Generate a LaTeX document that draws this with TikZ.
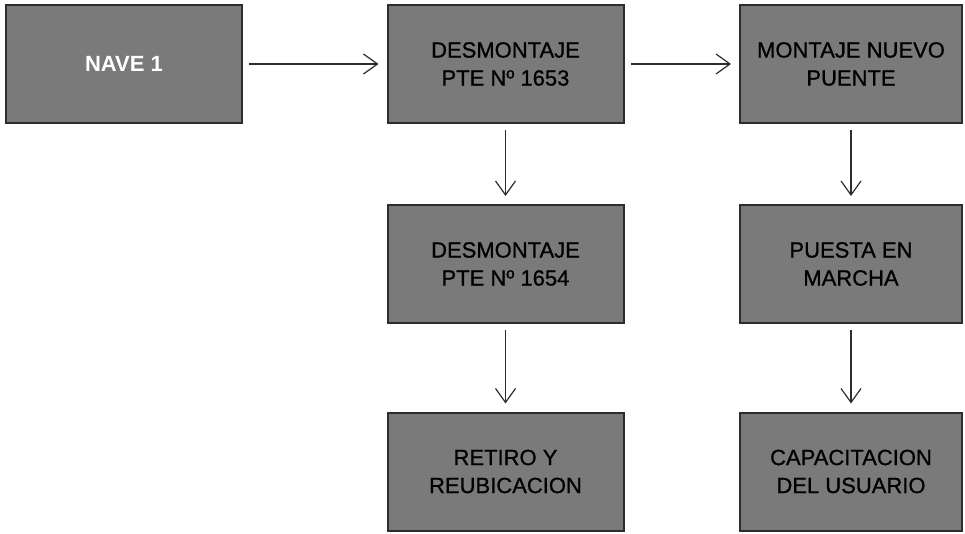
\documentclass[tikz,border=0pt]{standalone}
\usepackage{fontspec}
\setmainfont{Liberation Sans}
\newfontface\heavyface[FakeBold=0.8]{Liberation Sans}
\usetikzlibrary{arrows.meta}

\definecolor{boxfill}{RGB}{122,122,122}
\definecolor{boxedge}{RGB}{45,45,45}
\definecolor{arrowgray}{RGB}{45,45,45}

\begin{document}
\begin{tikzpicture}[x=1pt, y=1pt,
    tarea/.style={draw=boxedge, line width=2pt, fill=boxfill,
        minimum width=236pt, minimum height=118pt, inner sep=0pt,
        align=center, font=\fontsize{22}{28}\heavyface},
    flecha/.style={-{Straight Barb[length=14pt, width=20pt]}, line width=1.2pt,
        draw=arrowgray, shorten <=6pt, shorten >=8pt}]

    % --- 1. FRAME ---
    \useasboundingbox (0,0) rectangle (965,533);

    % --- 2. GRID (column / row centres) ---
    \def\colA{124}
    \def\colB{505.5}
    \def\colC{851}
    \def\rowA{469}
    \def\rowB{269}
    \def\rowC{61.5}

    % --- 3. BOXES ---
    \node[tarea, text=white, font=\fontsize{22}{28}\selectfont\bfseries] (nave) at (\colA, \rowA) {NAVE 1};

    % Desmontaje branch
    \node[tarea] (desm1653) at (\colB, \rowA) {DESMONTAJE\\PTE Nº 1653};
    \node[tarea] (desm1654) at (\colB, \rowB) {DESMONTAJE\\PTE Nº 1654};
    \node[tarea] (retiro)   at (\colB, \rowC) {RETIRO Y\\REUBICACION};

    % Montaje branch
    \node[tarea, minimum width=222pt] (montaje) at (\colC, \rowA) {MONTAJE NUEVO\\PUENTE};
    \node[tarea, minimum width=222pt] (puesta)  at (\colC, \rowB) {PUESTA EN\\MARCHA};
    \node[tarea, minimum width=222pt] (capac)   at (\colC, \rowC) {CAPACITACION\\DEL USUARIO};

    % --- 4. ARROWS ---
    \draw[flecha] (nave) -- (desm1653);
    \draw[flecha] (desm1653) -- (montaje);
    \draw[flecha] (desm1653) -- (desm1654);
    \draw[flecha] (desm1654) -- (retiro);
    \draw[flecha] (montaje) -- (puesta);
    \draw[flecha] (puesta) -- (capac);

\end{tikzpicture}
\end{document}
